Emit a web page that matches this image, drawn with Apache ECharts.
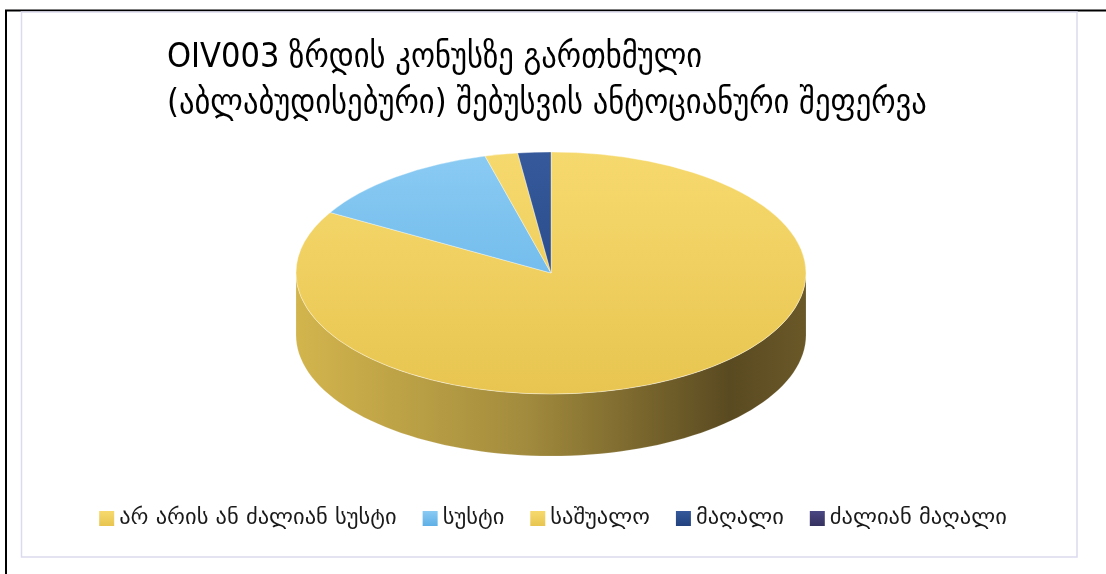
<!DOCTYPE html>
<html>
<head>
<meta charset="utf-8">
<script src="https://cdn.jsdelivr.net/npm/echarts@6/dist/echarts.min.js"></script>
<style>
  html, body { margin: 0; padding: 0; background: #fff; }
  #chart { width: 1106px; height: 574px; }
</style>
</head>
<body>
<div id="chart"></div>
<script>
// Chart data
const titleLines = ['OIV003 ზრდის კონუსზე გართხმული', '(აბლაბუდისებური) შებუსვის ანტოციანური შეფერვა'];
const categories = ['არ არის ან ძალიან სუსტი', 'სუსტი', 'საშუალო', 'მაღალი', 'ძალიან მაღალი'];
const values = [40, 6, 1, 1, 0];

// Top-face gradient (light, dark) per category
const faceColors = [
  ['#f6d96e', '#e8c550'],
  ['#8acbf3', '#5eafe6'],
  ['#f6d96e', '#e8c550'],
  ['#35599b', '#22427e'],
  ['#4b4782', '#35315f']
];
// Side-wall gradient (left to right) per category
const wallColors = [
  [[0, '#d3b54d'], [0.45, '#a28b3d'], [0.85, '#5a4a21'], [1, '#6a5828']],
  [[0, '#6fb6e4'], [1, '#2f5f80']],
  [[0, '#d3b54d'], [1, '#5c4c22']],
  [[0, '#2c4a84'], [1, '#142646']],
  [[0, '#3f3b70'], [1, '#221f3c']]
];

// Pie geometry (tilted disc)
const PIE = { cx: 551, cy: 273, rx: 255, ry: 121, depth: 62 };

const total = values.reduce((a, b) => a + b, 0);
const starts = [];
values.reduce((acc, v) => { starts.push(acc); return acc + v; }, 0);

function vGrad(c) {
  return new echarts.graphic.LinearGradient(0, 0, 0, 1, [
    { offset: 0, color: c[0] }, { offset: 1, color: c[1] }
  ]);
}

function ellipsePt(t, dy) {
  return [PIE.cx + PIE.rx * Math.cos(t), PIE.cy + PIE.ry * Math.sin(t) + dy];
}

function makeRender(k) {
  return function (params, api) {
    const v = api.value(0);
    if (!v) return null;
    const a0 = -Math.PI / 2 + starts[k] / total * 2 * Math.PI;
    const a1 = a0 + v / total * 2 * Math.PI;
    const children = [];

    // side wall: the part of the slice rim that faces the viewer (screen angles 0..PI)
    [0, 2 * Math.PI].forEach(function (shift) {
      const s = Math.max(a0, shift);
      const e = Math.min(a1, shift + Math.PI);
      if (e <= s) return;
      const n = 80;
      const pts = [];
      for (let i = 0; i <= n; i++) pts.push(ellipsePt(s + (e - s) * i / n, 0));
      for (let i = n; i >= 0; i--) pts.push(ellipsePt(s + (e - s) * i / n, PIE.depth));
      children.push({
        type: 'polygon',
        shape: { points: pts },
        style: {
          fill: {
            type: 'linear', x: PIE.cx - PIE.rx, y: 0, x2: PIE.cx + PIE.rx, y2: 0, global: true,
            colorStops: wallColors[k].map(function (c) { return { offset: c[0], color: c[1] }; })
          },
          stroke: 'rgba(255,255,255,0.25)', lineWidth: 0.6
        },
        z2: 1
      });
    });

    // top face
    children.push({
      type: 'sector',
      shape: { cx: PIE.cx, cy: PIE.cy, r: PIE.rx, r0: 0, startAngle: a0, endAngle: a1, clockwise: true },
      originX: PIE.cx, originY: PIE.cy,
      scaleY: PIE.ry / PIE.rx,
      style: {
        fill: {
          type: 'linear', x: 0, y: PIE.cy - PIE.rx, x2: 0, y2: PIE.cy + PIE.rx, global: true,
          colorStops: [{ offset: 0, color: faceColors[k][0] }, { offset: 1, color: faceColors[k][1] }]
        },
        stroke: 'rgba(255,255,255,0.6)', lineWidth: 0.8, strokeNoScale: true
      },
      z2: 10
    });

    return { type: 'group', children: children };
  };
}

const series = categories.map(function (name, k) {
  return {
    type: 'custom',
    name: name,
    coordinateSystem: 'none',
    itemStyle: { color: vGrad(faceColors[k]) },
    data: [[values[k]]],
    renderItem: makeRender(k),
    silent: true
  };
});

const chart = echarts.init(document.getElementById('chart'), null, { renderer: 'canvas' });
chart.setOption({
  animation: false,
  backgroundColor: '#ffffff',
  title: {
    text: titleLines.join('\n'),
    left: 162,
    top: 30,
    textStyle: {
      fontFamily: 'DejaVu Sans Condensed, DejaVu Sans, sans-serif',
      fontSize: 34,
      fontWeight: 'normal',
      color: '#000000',
      lineHeight: 46
    }
  },
  legend: {
    data: categories,
    left: 'center',
    top: 502,
    icon: 'rect',
    itemWidth: 15,
    itemHeight: 15,
    itemGap: 26,
    textStyle: {
      fontFamily: 'DejaVu Sans, sans-serif',
      fontSize: 22.5,
      color: '#1a1a1a'
    }
  },
  graphic: [
    { type: 'line', shape: { x1: 5, y1: 10.5, x2: 1106, y2: 10.5 }, style: { stroke: '#000', lineWidth: 2 } },
    { type: 'line', shape: { x1: 6, y1: 10, x2: 6, y2: 574 }, style: { stroke: '#000', lineWidth: 2 } },
    { type: 'rect', shape: { x: 21.5, y: 12, width: 1055.5, height: 545 },
      style: { fill: 'none', stroke: '#dcdaee', lineWidth: 1.5 } }
  ],
  series: series
});
</script>
</body>
</html>
